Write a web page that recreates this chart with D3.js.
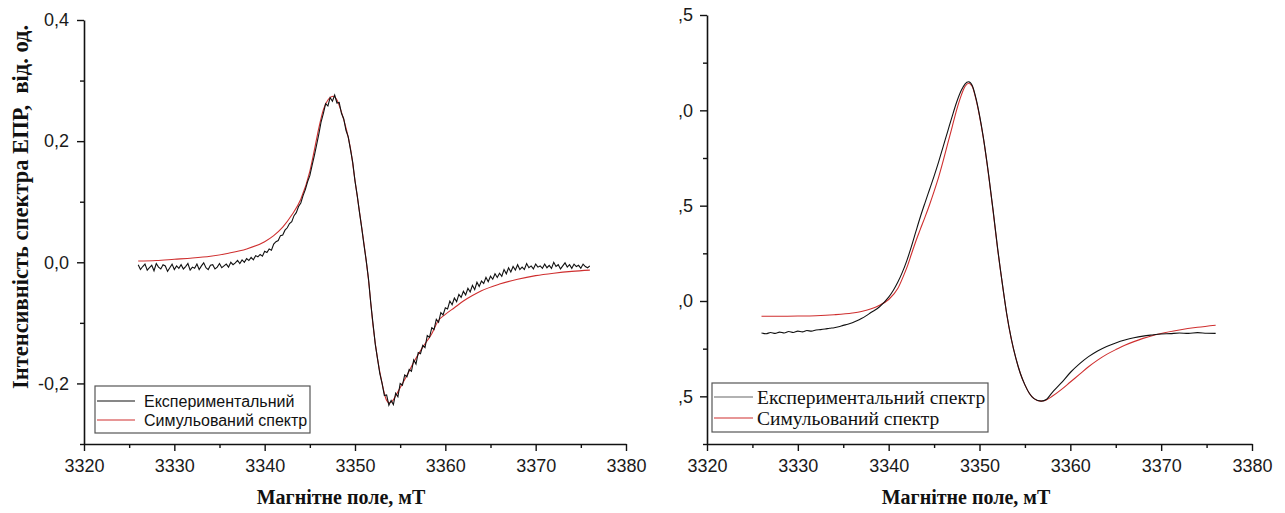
<!DOCTYPE html>
<html>
<head>
<meta charset="utf-8">
<script src="https://cdn.jsdelivr.net/npm/d3@7"></script>
<style>
  html, body { margin: 0; padding: 0; background: #fff; }
  svg { display: block; }
  .tick text { font-family: "Liberation Sans", Arial, sans-serif; font-size: 18px; fill: #1a1a1a; }
</style>
</head>
<body>
<svg id="chart" width="1285" height="513"></svg>
<script>
// ---------------- DATA ----------------
const xTicks = [3320, 3330, 3340, 3350, 3360, 3370, 3380];
const xMinorTicks = [3325, 3335, 3345, 3355, 3365, 3375];

const leftYTicks = [-0.2, 0.0, 0.2, 0.4];
const leftYTickLabels = ["-0,2", "0,0", "0,2", "0,4"];
const leftYMinorTicks = [-0.3, -0.1, 0.1, 0.3];

const rightYTicks = [-0.5, 0.0, 0.5, 1.0, 1.5];
const rightYTickLabels = [",5", ",0", ",5", ",0", ",5"];
const rightYMinorTicks = [-0.75, -0.25, 0.25, 0.75, 1.25];

const xTitle = "Магнітне поле, мТ";
const leftYTitle = "Інтенсивність спектра ЕПР,  від. од.";
const leftLegend = ["Експериментальний", "Симульований спектр"];
const rightLegend = ["Експериментальний спектр", "Симульований спектр"];

// Left panel: experimental spectrum, field starts at 3326 mT, step 0.25 mT
const leftExpStart = 3326;
const leftExpStep = 0.25;
const leftExpValues = [
  -0.004,-0.012,-0.007,-0.003,-0.013,-0.009,-0.005,-0.014,-0.002,-0.008,-0.011,-0.004,-0.006,-0.015,-0.009,-0.003,-0.012,-0.006,-0.010,-0.004,
  -0.011,-0.007,-0.002,-0.013,-0.008,-0.010,-0.003,-0.012,-0.006,-0.001,-0.009,-0.012,-0.005,-0.004,-0.011,-0.008,-0.002,-0.009,-0.006,-0.003,
  -0.008,0.000,-0.004,-0.001,0.003,-0.002,0.004,0.000,0.006,0.003,0.008,0.004,0.011,0.009,0.013,0.010,0.018,0.016,0.022,0.020,
  0.030,0.034,0.036,0.044,0.045,0.053,0.057,0.064,0.067,0.077,0.082,0.092,0.098,0.110,0.120,0.133,0.143,0.160,0.176,0.194,
  0.212,0.232,0.246,0.262,0.258,0.272,0.266,0.276,0.263,0.264,0.246,0.237,0.218,0.207,0.186,0.165,0.134,0.110,0.082,0.056,
  0.028,0.002,-0.028,-0.068,-0.102,-0.136,-0.160,-0.184,-0.200,-0.220,-0.219,-0.236,-0.228,-0.235,-0.216,-0.222,-0.200,-0.203,-0.186,-0.189,
  -0.177,-0.180,-0.161,-0.168,-0.149,-0.151,-0.137,-0.141,-0.121,-0.124,-0.108,-0.111,-0.094,-0.099,-0.083,-0.087,-0.075,-0.077,-0.064,-0.070,
  -0.059,-0.065,-0.053,-0.058,-0.048,-0.054,-0.043,-0.049,-0.038,-0.045,-0.033,-0.040,-0.031,-0.035,-0.025,-0.032,-0.023,-0.028,-0.019,-0.025,
  -0.018,-0.023,-0.012,-0.019,-0.009,-0.016,-0.007,-0.013,-0.004,-0.012,-0.008,-0.012,-0.002,-0.009,-0.006,-0.011,-0.003,-0.008,-0.006,-0.010,
  -0.003,-0.009,-0.005,-0.010,0.000,-0.007,-0.004,-0.011,-0.006,-0.001,-0.008,-0.004,-0.010,-0.003,-0.007,-0.005,-0.010,-0.003,-0.007,-0.009,
  -0.006
];

// Left panel: simulated spectrum
const leftSimField = [3326,3328,3330,3332,3334,3336,3338,3340,3341,3342,3343,3344,3345,3345.5,3346,3346.5,3347,3347.6,3348,3348.5,3349,3349.5,3350,3350.5,3351,3351.5,3352,3352.5,3353,3353.5,3353.8,3354.2,3354.6,3355,3355.7,3356.5,3357.5,3358.5,3359.2,3360,3361,3362,3363,3364,3366,3368,3370,3372,3374,3376];
const leftSimValues = [0.002,0.003,0.005,0.007,0.010,0.015,0.022,0.034,0.044,0.058,0.078,0.104,0.150,0.185,0.222,0.252,0.268,0.274,0.268,0.248,0.222,0.188,0.135,0.083,0.030,-0.030,-0.105,-0.160,-0.200,-0.228,-0.232,-0.228,-0.218,-0.207,-0.188,-0.165,-0.140,-0.118,-0.097,-0.086,-0.075,-0.064,-0.055,-0.047,-0.036,-0.028,-0.022,-0.018,-0.015,-0.013];

// Right panel: experimental spectrum
const rightExpField = [3326,3326.5,3327,3327.5,3328,3328.5,3329,3329.5,3330,3330.5,3331,3331.5,3332,3332.5,3333,3333.5,3334,3334.5,3335,3335.5,3336,3336.5,3337,3337.5,3338,3339,3340,3340.5,3341,3341.5,3342,3342.5,3343,3343.5,3344,3344.5,3345,3345.5,3346,3346.5,3347,3347.5,3348,3348.4,3348.8,3349.2,3349.6,3350,3350.4,3351,3351.5,3352,3352.3,3352.6,3353,3353.5,3354,3354.5,3355,3355.5,3356,3356.8,3357.4,3358,3359,3360,3361,3362,3363,3364,3365,3366,3367,3368,3369,3370,3371,3372,3373,3374,3375,3376];
const rightExpValues = [-0.168,-0.172,-0.165,-0.170,-0.163,-0.168,-0.160,-0.165,-0.158,-0.162,-0.155,-0.158,-0.152,-0.150,-0.147,-0.143,-0.140,-0.135,-0.128,-0.122,-0.114,-0.104,-0.092,-0.078,-0.062,-0.030,0.020,0.055,0.098,0.150,0.212,0.285,0.365,0.443,0.515,0.585,0.655,0.730,0.810,0.890,0.970,1.045,1.105,1.138,1.150,1.130,1.065,0.975,0.865,0.665,0.475,0.275,0.165,0.062,-0.068,-0.198,-0.300,-0.380,-0.440,-0.485,-0.512,-0.525,-0.515,-0.480,-0.430,-0.375,-0.330,-0.292,-0.262,-0.238,-0.220,-0.205,-0.193,-0.184,-0.178,-0.173,-0.171,-0.168,-0.170,-0.166,-0.169,-0.170];

// Right panel: simulated spectrum
const rightSimField = [3326,3328,3330,3332,3334,3336,3337,3338,3339,3340,3341,3341.6,3342,3342.5,3343,3343.45,3344,3344.5,3345,3345.5,3346,3346.5,3347,3347.5,3348,3348.4,3348.8,3349.2,3349.6,3350,3350.4,3351,3351.5,3352,3352.3,3352.6,3353,3353.5,3354,3354.5,3355,3355.5,3356,3356.7,3357.3,3358,3359,3360,3361,3362,3363,3364,3365,3366,3367,3368,3369,3370,3372,3374,3376];
const rightSimValues = [-0.080,-0.080,-0.079,-0.077,-0.072,-0.063,-0.055,-0.042,-0.022,0.008,0.065,0.128,0.175,0.245,0.315,0.372,0.440,0.505,0.575,0.650,0.735,0.825,0.915,1.005,1.080,1.125,1.142,1.125,1.060,0.970,0.862,0.660,0.470,0.270,0.163,0.060,-0.070,-0.200,-0.300,-0.380,-0.440,-0.485,-0.512,-0.525,-0.520,-0.500,-0.465,-0.425,-0.385,-0.345,-0.310,-0.280,-0.255,-0.232,-0.213,-0.196,-0.182,-0.170,-0.152,-0.138,-0.127];

// ---------------- DRAW ----------------
const svg = d3.select("#chart");
const RED = "#cf2f2f";
const SERIF = "'Liberation Serif', 'Times New Roman', serif";

function panel(opt) {
  const x = d3.scaleLinear().domain([3320, 3380]).range(opt.xRange);
  const y = d3.scaleLinear().domain(opt.yDomain).range(opt.yRange);
  const g = svg.append("g");
  const y0 = opt.yRange[0], x0 = opt.xRange[0];

  // minor ticks
  g.append("g").attr("transform", `translate(0,${y0})`)
    .call(d3.axisBottom(x).tickValues(xMinorTicks).tickSize(4).tickSizeOuter(0).tickFormat(""))
    .call(s => s.select(".domain").remove())
    .call(s => s.selectAll("line").attr("stroke", "#111").attr("stroke-width", 1.4));
  g.append("g").attr("transform", `translate(${x0},0)`)
    .call(d3.axisLeft(y).tickValues(opt.yMinor).tickSize(4).tickSizeOuter(0).tickFormat(""))
    .call(s => s.select(".domain").remove())
    .call(s => s.selectAll("line").attr("stroke", "#111").attr("stroke-width", 1.4));

  // major axes
  g.append("g").attr("transform", `translate(0,${y0})`)
    .call(d3.axisBottom(x).tickValues(xTicks).tickSize(7).tickSizeOuter(0).tickPadding(8).tickFormat(d3.format("d")))
    .call(s => s.select(".domain").attr("stroke", "#111").attr("stroke-width", 1.6))
    .call(s => s.selectAll("line").attr("stroke", "#111").attr("stroke-width", 1.4));
  g.append("g").attr("transform", `translate(${x0},0)`)
    .call(d3.axisLeft(y).tickValues(opt.yTicks).tickSize(7).tickSizeOuter(0).tickPadding(opt.yPad)
      .tickFormat((d, i) => opt.yLabels[i]))
    .call(s => s.select(".domain").attr("stroke", "#111").attr("stroke-width", 1.6))
    .call(s => s.selectAll("line").attr("stroke", "#111").attr("stroke-width", 1.4));

  g.append("path").datum(opt.sim)
    .attr("d", d3.line().x(d => x(d[0])).y(d => y(d[1])).curve(d3.curveMonotoneX))
    .attr("fill", "none").attr("stroke", RED).attr("stroke-width", 1.1);
  g.append("path").datum(opt.exp)
    .attr("d", d3.line().x(d => x(d[0])).y(d => y(d[1])).curve(opt.expCurve))
    .attr("fill", "none").attr("stroke", "#111").attr("stroke-width", 1.1);

  // x title
  g.append("text").attr("x", opt.xTitleX).attr("y", 504).attr("text-anchor", "middle")
    .attr("font-family", SERIF)
    .attr("font-weight", "bold").attr("font-size", 20).attr("fill", "#111").text(xTitle);

  // legend
  const L = opt.legend;
  g.append("rect").attr("x", L.x).attr("y", L.y).attr("width", L.w).attr("height", L.h)
    .attr("fill", "#fff").attr("stroke", "#555").attr("stroke-width", 1.2);
  const cols = [L.expColor, RED];
  L.labels.forEach((t, i) => {
    const cy = L.y + L.rows[i];
    g.append("line").attr("x1", L.x + 2).attr("x2", L.lineEnd).attr("y1", cy).attr("y2", cy)
      .attr("stroke", cols[i]).attr("stroke-width", 1.2);
    g.append("text").attr("x", L.textX).attr("y", cy).attr("dy", "0.35em")
      .attr("font-family", L.font).attr("font-size", L.size).attr("fill", "#111").text(t);
  });
}

const leftExp = leftExpValues.map((v, i) => [leftExpStart + i * leftExpStep, v]);
const leftSim = leftSimField.map((b, i) => [b, leftSimValues[i]]);
const rightExp = rightExpField.map((b, i) => [b, rightExpValues[i]]);
const rightSim = rightSimField.map((b, i) => [b, rightSimValues[i]]);

panel({
  xRange: [84, 626], yDomain: [-0.3, 0.4], yRange: [444, 20],
  yTicks: leftYTicks, yLabels: leftYTickLabels, yMinor: leftYMinorTicks, yPad: 8,
  exp: leftExp, sim: leftSim, expCurve: d3.curveLinear, xTitleX: 341,
  legend: { x: 95, y: 386, w: 215, h: 47, rows: [15, 34], lineEnd: 135, textX: 144,
            labels: leftLegend, expColor: "#111",
            font: "'Liberation Sans', Arial, sans-serif", size: 16 }
});

panel({
  xRange: [707, 1252], yDomain: [-0.75, 1.5], yRange: [444, 15],
  yTicks: rightYTicks, yLabels: rightYTickLabels, yMinor: rightYMinorTicks, yPad: 7,
  exp: rightExp, sim: rightSim, expCurve: d3.curveMonotoneX, xTitleX: 966,
  legend: { x: 712, y: 383, w: 276, h: 49, rows: [14, 35], lineEnd: 753, textX: 757,
            labels: rightLegend, expColor: "#666",
            font: SERIF, size: 19.5 }
});

// left y title
svg.append("text")
  .attr("transform", "translate(28,207) rotate(-90)")
  .attr("text-anchor", "middle")
  .style("white-space", "pre")
  .attr("font-family", SERIF)
  .attr("font-weight", "bold").attr("font-size", 22.5).attr("fill", "#111")
  .text(leftYTitle);
</script>
</body>
</html>
